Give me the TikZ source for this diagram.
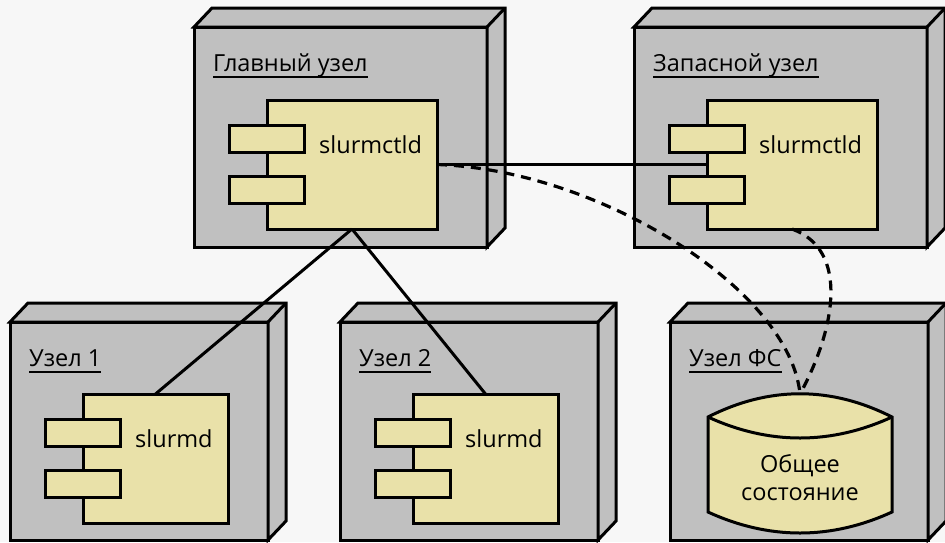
\documentclass[tikz,border=0pt]{standalone}
\usepackage{fontspec}
\setmainfont{Open Sans}
\usetikzlibrary{calc}
\definecolor{bgcol}{RGB}{247,247,247}
\definecolor{nodegray}{RGB}{192,192,192}
\definecolor{compyellow}{RGB}{233,225,169}

\tikzset{
  frame/.style={draw=black, line width=3pt, line join=miter},
  face/.style={frame, fill=nodegray, inner sep=0pt, outer sep=0pt},
  comp/.style={frame, fill=compyellow, inner sep=0pt, outer sep=0pt},
  txt/.style={font=\fontsize{23.5}{28}\selectfont, inner sep=0pt},
  link/.style={line width=3pt},
  dashlink/.style={line width=3.2pt, dash pattern=on 10pt off 7pt},
}

% 3D node box: name, cx, cy, width, height, title
\newcommand{\nodebox}[6]{
  \node[face, minimum width=#4pt, minimum height=#5pt] (#1) at (#2,#3) {};
  \filldraw[frame, fill=nodegray] (#1.north west) -- ++(18,19)
    -- ($(#1.north east)+(18,19)$) -- ($(#1.south east)+(18,19)$)
    -- (#1.south east) -- (#1.north east) -- cycle;
  \draw[frame] (#1.north east) -- ++(18,19);
  \node[txt, anchor=base west] (#1-title) at ($(#1.north west)+(19,-44)$) {#6};
  \draw[line width=1.6pt] ($(#1-title.base west)+(0,-6)$) -- ($(#1-title.base east)+(0,-6)$);
}

% component: name, cx, cy, width, text
\newcommand{\component}[5]{
  \node[comp, minimum width=#4pt, minimum height=129pt] (#1) at (#2,#3) {};
  \node[comp, minimum width=75pt, minimum height=27pt] (#1-p1) at ($(#1.west)+(0,25.5)$) {};
  \node[comp, minimum width=75pt, minimum height=27pt] (#1-p2) at ($(#1.west)+(0,-25.5)$) {};
  \node[txt, anchor=base west] (#1-name) at ($(#1.north west)+(52,-53)$) {#5};
}

\begin{document}
\begin{tikzpicture}[x=1pt, y=1pt]
  \fill[bgcol] (0,0) rectangle (945,-542);
  \useasboundingbox (0,0) rectangle (945,-542);

  % nodes
  \nodebox{main}{340.5}{-137}{293}{220}{Главный узел}
  \nodebox{backup}{780.5}{-137}{293}{220}{Запасной узел}
  \nodebox{node1}{139}{-431}{258}{218}{Узел 1}
  \nodebox{node2}{469}{-431}{258}{218}{Узел 2}
  \nodebox{fsnode}{799}{-431}{258}{218}{Узел ФС}

  % components
  \component{mainc}{352}{-164.5}{170}{slurmctld}
  \component{backc}{792}{-164.5}{170}{slurmctld}
  \component{n1c}{155.5}{-458.5}{145}{slurmd}
  \component{n2c}{485.5}{-458.5}{145}{slurmd}

  % shared state
  \filldraw[frame, fill=compyellow] (708,-417) .. controls (769,-386) and (831,-386) .. (892,-417)
    -- (892,-512) .. controls (831,-540) and (769,-540) .. (708,-512) -- cycle;
  \draw[frame] (708,-417) .. controls (769,-445) and (831,-445) .. (892,-417);
  \coordinate (cyltop) at (800,-394);
  \node[txt, align=center] (state) at (800,-478) {Общее\\состояние};

  % links
  \draw[link] (mainc.east) -- (backc.west);
  \draw[link] (mainc.south) -- (n1c.north);
  \draw[link] (mainc.south) -- (n2c.north);
  \draw[dashlink] (mainc.east) .. controls (600,-170) and (790,-290) .. (cyltop);
  \draw[dashlink] (backc.south) .. controls (850,-250) and (835,-330) .. (cyltop);
\end{tikzpicture}
\end{document}
